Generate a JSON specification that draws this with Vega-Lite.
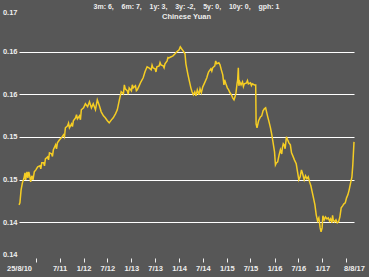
{
  "$schema": "https://vega.github.io/schema/vega-lite/v6.json",
  "width": 335,
  "height": 250,
  "autosize": {"type": "none"},
  "padding": {"left": 19, "top": 8, "right": 15, "bottom": 19},
  "background": "#575757",
  "config": {"view": {"stroke": null}, "font": "Liberation Sans"},
  "title": {
    "text": "3m: 6, \u00a0\u00a0 6m: 7, \u00a0\u00a0 1y: 3, \u00a0\u00a0 3y: -2, \u00a0\u00a0 5y: 0, \u00a0\u00a0 10y: 0, \u00a0\u00a0 gph: 1",
    "subtitle": "\u00a0\u00a0\u00a0\u00a0\u00a0\u00a0\u00a0\u00a0\u00a0\u00a0\u00a0\u00a0\u00a0\u00a0\u00a0\u00a0\u00a0\u00a0\u00a0\u00a0\u00a0\u00a0Chinese Yuan",
    "anchor": "middle",
    "frame": "group",
    "fontSize": 7,
    "subtitleFontSize": 7.5,
    "fontWeight": "bold",
    "subtitleFontWeight": "bold",
    "color": "#eeeeee",
    "subtitleColor": "#eeeeee",
    "offset": -12,
    "subtitlePadding": 3
  },
  "data": {"values": [
    {"date": "2010-08-25", "rate": 0.14703},
    {"date": "2010-09-01", "rate": 0.14726},
    {"date": "2010-09-10", "rate": 0.14879},
    {"date": "2010-09-20", "rate": 0.14961},
    {"date": "2010-10-01", "rate": 0.15008},
    {"date": "2010-10-10", "rate": 0.15078},
    {"date": "2010-10-15", "rate": 0.14996},
    {"date": "2010-10-25", "rate": 0.15090},
    {"date": "2010-11-01", "rate": 0.15020},
    {"date": "2010-11-08", "rate": 0.15090},
    {"date": "2010-11-15", "rate": 0.15043},
    {"date": "2010-11-22", "rate": 0.14972},
    {"date": "2010-12-01", "rate": 0.15043},
    {"date": "2010-12-10", "rate": 0.14996},
    {"date": "2010-12-20", "rate": 0.15090},
    {"date": "2011-01-01", "rate": 0.15113},
    {"date": "2011-01-15", "rate": 0.15149},
    {"date": "2011-02-01", "rate": 0.15160},
    {"date": "2011-02-08", "rate": 0.15125},
    {"date": "2011-02-15", "rate": 0.15195},
    {"date": "2011-03-01", "rate": 0.15195},
    {"date": "2011-03-08", "rate": 0.15160},
    {"date": "2011-03-15", "rate": 0.15242},
    {"date": "2011-04-01", "rate": 0.15266},
    {"date": "2011-04-08", "rate": 0.15230},
    {"date": "2011-04-15", "rate": 0.15313},
    {"date": "2011-05-01", "rate": 0.15301},
    {"date": "2011-05-08", "rate": 0.15270},
    {"date": "2011-05-15", "rate": 0.15348},
    {"date": "2011-06-01", "rate": 0.15406},
    {"date": "2011-06-08", "rate": 0.15360},
    {"date": "2011-06-15", "rate": 0.15430},
    {"date": "2011-07-01", "rate": 0.15465},
    {"date": "2011-07-15", "rate": 0.15488},
    {"date": "2011-08-01", "rate": 0.15524},
    {"date": "2011-08-08", "rate": 0.15500},
    {"date": "2011-08-15", "rate": 0.15606},
    {"date": "2011-09-01", "rate": 0.15629},
    {"date": "2011-09-08", "rate": 0.15660},
    {"date": "2011-09-15", "rate": 0.15606},
    {"date": "2011-10-01", "rate": 0.15652},
    {"date": "2011-10-08", "rate": 0.15620},
    {"date": "2011-10-15", "rate": 0.15688},
    {"date": "2011-11-01", "rate": 0.15723},
    {"date": "2011-11-08", "rate": 0.15760},
    {"date": "2011-11-15", "rate": 0.15711},
    {"date": "2011-12-01", "rate": 0.15746},
    {"date": "2011-12-08", "rate": 0.15700},
    {"date": "2011-12-15", "rate": 0.15817},
    {"date": "2012-01-01", "rate": 0.15840},
    {"date": "2012-01-15", "rate": 0.15887},
    {"date": "2012-02-01", "rate": 0.15852},
    {"date": "2012-02-15", "rate": 0.15910},
    {"date": "2012-03-01", "rate": 0.15840},
    {"date": "2012-03-15", "rate": 0.15887},
    {"date": "2012-04-01", "rate": 0.15817},
    {"date": "2012-04-15", "rate": 0.15934},
    {"date": "2012-05-01", "rate": 0.15864},
    {"date": "2012-05-15", "rate": 0.15793},
    {"date": "2012-06-01", "rate": 0.15746},
    {"date": "2012-06-15", "rate": 0.15723},
    {"date": "2012-07-01", "rate": 0.15688},
    {"date": "2012-07-15", "rate": 0.15664},
    {"date": "2012-08-01", "rate": 0.15699},
    {"date": "2012-08-15", "rate": 0.15723},
    {"date": "2012-09-01", "rate": 0.15770},
    {"date": "2012-09-15", "rate": 0.15817},
    {"date": "2012-10-01", "rate": 0.15934},
    {"date": "2012-10-08", "rate": 0.15980},
    {"date": "2012-10-15", "rate": 0.16028},
    {"date": "2012-11-01", "rate": 0.16004},
    {"date": "2012-11-08", "rate": 0.16110},
    {"date": "2012-11-15", "rate": 0.16063},
    {"date": "2012-12-01", "rate": 0.16039},
    {"date": "2012-12-08", "rate": 0.16000},
    {"date": "2012-12-15", "rate": 0.16074},
    {"date": "2013-01-01", "rate": 0.16039},
    {"date": "2013-01-08", "rate": 0.16110},
    {"date": "2013-01-15", "rate": 0.16074},
    {"date": "2013-02-01", "rate": 0.16098},
    {"date": "2013-02-08", "rate": 0.16040},
    {"date": "2013-02-15", "rate": 0.16051},
    {"date": "2013-03-01", "rate": 0.16098},
    {"date": "2013-03-15", "rate": 0.16145},
    {"date": "2013-04-01", "rate": 0.16192},
    {"date": "2013-04-15", "rate": 0.16262},
    {"date": "2013-05-01", "rate": 0.16321},
    {"date": "2013-05-15", "rate": 0.16309},
    {"date": "2013-06-01", "rate": 0.16285},
    {"date": "2013-06-08", "rate": 0.16340},
    {"date": "2013-06-15", "rate": 0.16309},
    {"date": "2013-07-01", "rate": 0.16297},
    {"date": "2013-07-08", "rate": 0.16260},
    {"date": "2013-07-15", "rate": 0.16321},
    {"date": "2013-08-01", "rate": 0.16332},
    {"date": "2013-08-08", "rate": 0.16370},
    {"date": "2013-08-15", "rate": 0.16344},
    {"date": "2013-09-01", "rate": 0.16332},
    {"date": "2013-09-08", "rate": 0.16310},
    {"date": "2013-09-15", "rate": 0.16356},
    {"date": "2013-10-01", "rate": 0.16391},
    {"date": "2013-10-08", "rate": 0.16430},
    {"date": "2013-10-15", "rate": 0.16426},
    {"date": "2013-11-01", "rate": 0.16438},
    {"date": "2013-11-15", "rate": 0.16450},
    {"date": "2013-12-01", "rate": 0.16473},
    {"date": "2013-12-15", "rate": 0.16497},
    {"date": "2014-01-01", "rate": 0.16520},
    {"date": "2014-01-10", "rate": 0.16555},
    {"date": "2014-01-20", "rate": 0.16532},
    {"date": "2014-02-01", "rate": 0.16508},
    {"date": "2014-02-15", "rate": 0.16473},
    {"date": "2014-02-22", "rate": 0.16356},
    {"date": "2014-03-01", "rate": 0.16297},
    {"date": "2014-03-10", "rate": 0.16227},
    {"date": "2014-03-20", "rate": 0.16156},
    {"date": "2014-04-01", "rate": 0.16074},
    {"date": "2014-04-10", "rate": 0.16028},
    {"date": "2014-04-20", "rate": 0.15993},
    {"date": "2014-05-01", "rate": 0.16028},
    {"date": "2014-05-10", "rate": 0.15981},
    {"date": "2014-05-20", "rate": 0.16051},
    {"date": "2014-06-01", "rate": 0.15993},
    {"date": "2014-06-10", "rate": 0.16063},
    {"date": "2014-06-20", "rate": 0.16016},
    {"date": "2014-07-01", "rate": 0.16086},
    {"date": "2014-07-15", "rate": 0.16133},
    {"date": "2014-08-01", "rate": 0.16192},
    {"date": "2014-08-08", "rate": 0.16230},
    {"date": "2014-08-15", "rate": 0.16262},
    {"date": "2014-09-01", "rate": 0.16297},
    {"date": "2014-09-08", "rate": 0.16270},
    {"date": "2014-09-15", "rate": 0.16309},
    {"date": "2014-10-01", "rate": 0.16332},
    {"date": "2014-10-08", "rate": 0.16390},
    {"date": "2014-10-15", "rate": 0.16356},
    {"date": "2014-11-01", "rate": 0.16368},
    {"date": "2014-11-10", "rate": 0.16344},
    {"date": "2014-11-20", "rate": 0.16285},
    {"date": "2014-12-01", "rate": 0.16227},
    {"date": "2014-12-10", "rate": 0.16109},
    {"date": "2014-12-15", "rate": 0.16168},
    {"date": "2014-12-25", "rate": 0.16121},
    {"date": "2015-01-05", "rate": 0.16074},
    {"date": "2015-01-15", "rate": 0.16051},
    {"date": "2015-01-25", "rate": 0.16016},
    {"date": "2015-02-05", "rate": 0.15993},
    {"date": "2015-02-15", "rate": 0.15957},
    {"date": "2015-02-25", "rate": 0.15934},
    {"date": "2015-03-05", "rate": 0.15969},
    {"date": "2015-03-12", "rate": 0.16016},
    {"date": "2015-03-20", "rate": 0.16121},
    {"date": "2015-03-25", "rate": 0.16168},
    {"date": "2015-03-30", "rate": 0.16309},
    {"date": "2015-04-03", "rate": 0.16098},
    {"date": "2015-04-10", "rate": 0.16145},
    {"date": "2015-04-20", "rate": 0.16109},
    {"date": "2015-05-01", "rate": 0.16145},
    {"date": "2015-05-08", "rate": 0.16090},
    {"date": "2015-05-15", "rate": 0.16121},
    {"date": "2015-06-01", "rate": 0.16133},
    {"date": "2015-06-08", "rate": 0.16160},
    {"date": "2015-06-15", "rate": 0.16121},
    {"date": "2015-07-01", "rate": 0.16133},
    {"date": "2015-07-08", "rate": 0.16100},
    {"date": "2015-07-15", "rate": 0.16121},
    {"date": "2015-08-01", "rate": 0.16109},
    {"date": "2015-08-10", "rate": 0.16109},
    {"date": "2015-08-13", "rate": 0.15652},
    {"date": "2015-08-20", "rate": 0.15606},
    {"date": "2015-09-01", "rate": 0.15688},
    {"date": "2015-09-15", "rate": 0.15734},
    {"date": "2015-09-25", "rate": 0.15746},
    {"date": "2015-10-05", "rate": 0.15805},
    {"date": "2015-10-15", "rate": 0.15828},
    {"date": "2015-10-25", "rate": 0.15840},
    {"date": "2015-11-01", "rate": 0.15793},
    {"date": "2015-11-10", "rate": 0.15734},
    {"date": "2015-11-20", "rate": 0.15676},
    {"date": "2015-12-01", "rate": 0.15606},
    {"date": "2015-12-10", "rate": 0.15535},
    {"date": "2015-12-20", "rate": 0.15441},
    {"date": "2016-01-01", "rate": 0.15324},
    {"date": "2016-01-08", "rate": 0.15172},
    {"date": "2016-01-15", "rate": 0.15195},
    {"date": "2016-01-25", "rate": 0.15207},
    {"date": "2016-02-05", "rate": 0.15289},
    {"date": "2016-02-15", "rate": 0.15348},
    {"date": "2016-02-25", "rate": 0.15300},
    {"date": "2016-03-01", "rate": 0.15371},
    {"date": "2016-03-08", "rate": 0.15420},
    {"date": "2016-03-15", "rate": 0.15406},
    {"date": "2016-03-22", "rate": 0.15360},
    {"date": "2016-04-01", "rate": 0.15500},
    {"date": "2016-04-10", "rate": 0.15465},
    {"date": "2016-04-20", "rate": 0.15430},
    {"date": "2016-05-01", "rate": 0.15406},
    {"date": "2016-05-10", "rate": 0.15313},
    {"date": "2016-05-20", "rate": 0.15277},
    {"date": "2016-06-01", "rate": 0.15230},
    {"date": "2016-06-15", "rate": 0.15184},
    {"date": "2016-06-25", "rate": 0.15090},
    {"date": "2016-07-05", "rate": 0.14996},
    {"date": "2016-07-15", "rate": 0.15031},
    {"date": "2016-07-25", "rate": 0.15113},
    {"date": "2016-08-05", "rate": 0.15055},
    {"date": "2016-08-15", "rate": 0.14996},
    {"date": "2016-08-25", "rate": 0.15043},
    {"date": "2016-09-05", "rate": 0.15008},
    {"date": "2016-09-15", "rate": 0.15031},
    {"date": "2016-09-25", "rate": 0.14972},
    {"date": "2016-10-05", "rate": 0.14926},
    {"date": "2016-10-15", "rate": 0.14855},
    {"date": "2016-10-25", "rate": 0.14785},
    {"date": "2016-11-05", "rate": 0.14703},
    {"date": "2016-11-15", "rate": 0.14586},
    {"date": "2016-11-25", "rate": 0.14515},
    {"date": "2016-12-05", "rate": 0.14550},
    {"date": "2016-12-15", "rate": 0.14433},
    {"date": "2016-12-22", "rate": 0.14386},
    {"date": "2016-12-30", "rate": 0.14433},
    {"date": "2017-01-05", "rate": 0.14574},
    {"date": "2017-01-15", "rate": 0.14527},
    {"date": "2017-01-25", "rate": 0.14562},
    {"date": "2017-02-05", "rate": 0.14539},
    {"date": "2017-02-15", "rate": 0.14550},
    {"date": "2017-02-25", "rate": 0.14515},
    {"date": "2017-03-05", "rate": 0.14539},
    {"date": "2017-03-15", "rate": 0.14492},
    {"date": "2017-03-20", "rate": 0.14580},
    {"date": "2017-03-25", "rate": 0.14527},
    {"date": "2017-04-05", "rate": 0.14503},
    {"date": "2017-04-15", "rate": 0.14527},
    {"date": "2017-04-25", "rate": 0.14492},
    {"date": "2017-05-05", "rate": 0.14503},
    {"date": "2017-05-15", "rate": 0.14562},
    {"date": "2017-05-25", "rate": 0.14668},
    {"date": "2017-06-05", "rate": 0.14691},
    {"date": "2017-06-15", "rate": 0.14715},
    {"date": "2017-06-25", "rate": 0.14726},
    {"date": "2017-07-05", "rate": 0.14785},
    {"date": "2017-07-15", "rate": 0.14820},
    {"date": "2017-07-25", "rate": 0.14879},
    {"date": "2017-08-05", "rate": 0.14961},
    {"date": "2017-08-15", "rate": 0.15031},
    {"date": "2017-08-22", "rate": 0.15172},
    {"date": "2017-08-31", "rate": 0.15441}
  ]},
  "mark": {"type": "line", "color": "#f5cd24", "strokeWidth": 1.5},
  "encoding": {
    "x": {
      "field": "date",
      "type": "temporal",
      "scale": {"type": "utc", "domain": [{"year": 2010, "month": 8, "date": 25, "utc": true}, {"year": 2017, "month": 8, "date": 31, "utc": true}]},
      "axis": {
        "title": null,
        "domain": false,
        "grid": false,
        "values": [
          {"year": 2010, "month": 8, "date": 25, "utc": true},
          {"year": 2011, "month": 1, "date": 1, "utc": true},
          {"year": 2011, "month": 7, "date": 1, "utc": true},
          {"year": 2012, "month": 1, "date": 1, "utc": true},
          {"year": 2012, "month": 7, "date": 1, "utc": true},
          {"year": 2013, "month": 1, "date": 1, "utc": true},
          {"year": 2013, "month": 7, "date": 1, "utc": true},
          {"year": 2014, "month": 1, "date": 1, "utc": true},
          {"year": 2014, "month": 7, "date": 1, "utc": true},
          {"year": 2015, "month": 1, "date": 1, "utc": true},
          {"year": 2015, "month": 7, "date": 1, "utc": true},
          {"year": 2016, "month": 1, "date": 1, "utc": true},
          {"year": 2016, "month": 7, "date": 1, "utc": true},
          {"year": 2017, "month": 1, "date": 1, "utc": true},
          {"year": 2017, "month": 7, "date": 1, "utc": true},
          {"year": 2017, "month": 8, "date": 31, "utc": true}
        ],
        "labelExpr": "utcyear(datum.value) == 2010 ? '25/8/10' : (utcmonth(datum.value) == 7 ? '8/8/17' : (((utcyear(datum.value) == 2011 && utcmonth(datum.value) == 0) || (utcyear(datum.value) == 2017 && utcmonth(datum.value) == 6)) ? '' : (utcmonth(datum.value) + 1) + '/' + utcFormat(datum.value, '%y')))",
        "labelFlush": false,
        "labelOverlap": false,
        "labelBound": false,
        "labelFontSize": 7.5,
        "labelFontWeight": "bold",
        "labelColor": "#eeeeee",
        "labelPadding": 2,
        "tickColor": "#eeeeee",
        "tickSize": 4,
        "tickWidth": 1,
        "tickOpacity": {"condition": {"test": "utcyear(datum.value) == 2010 || utcmonth(datum.value) == 7", "value": 0}, "value": 1}
      }
    },
    "y": {
      "field": "rate",
      "type": "quantitative",
      "scale": {"domain": [0.1408, 0.1701], "zero": false, "nice": false},
      "axis": {
        "title": null,
        "domain": false,
        "ticks": false,
        "values": [0.1408, 0.145, 0.15, 0.155, 0.16, 0.165, 0.1701],
        "labelExpr": "format(floor(datum.value * 100 + 1e-9) / 100, '.2f')",
        "labelAlign": "right",
        "labelPadding": 2,
        "labelFlush": true,
        "labelOverlap": false,
        "labelFontSize": 7.5,
        "labelFontWeight": "bold",
        "labelColor": "#eeeeee",
        "grid": true,
        "gridColor": "#ffffff",
        "gridWidth": 1.2,
        "gridOpacity": {"condition": {"test": "datum.value < 0.142 || datum.value > 0.169", "value": 0}, "value": 1}
      }
    }
  }
}
